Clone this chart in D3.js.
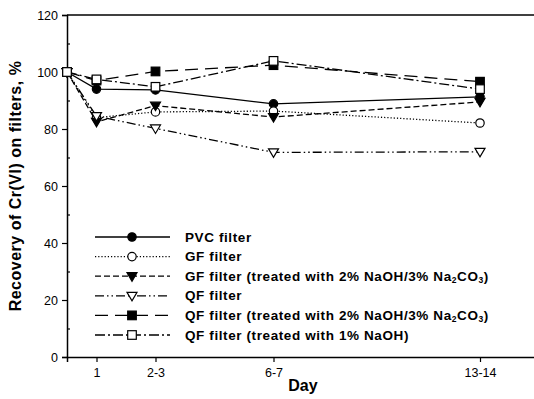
<!DOCTYPE html>
<style>
 body { margin: 0; background: #fff; }
 svg { font-family: "Liberation Sans", Arial, sans-serif; background: #fff; }
 .tick text { font-size: 12.5px; fill: #000; }
 .legend text { font-size: 13.5px; font-weight: bold; letter-spacing: 0.6px; }
</style>
<body>
<svg width="534" height="399"></svg>
</body>
<script src="https://d3js.org/d3.v7.min.js"></script>
<script>

// data
var days = [0, 1, 3, 7, 14];
var dayLabels = ["", "1", "2-3", "6-7", "13-14"];
var pvc = [100, 94, 93.7, 88.8, 91.3];
var gf = [100, 84, 86, 86.3, 82.1];
var gfTreated = [100, 82.5, 88.2, 84.2, 89.5];
var qf = [100, 84.5, 80.2, 71.8, 72];
var qfTreated2 = [100, 97, 100.2, 102.4, 96.6];
var qfTreated1 = [100, 97.4, 94.8, 103.9, 94];
var yTicks = [0, 20, 40, 60, 80, 100, 120];

var series = [
  {name: ["PVC filter"], values: pvc, dash: null, marker: "circle", fill: "#000"},
  {name: ["GF filter"], values: gf, dash: "1.2,2", marker: "circle", fill: "#fff"},
  {name: ["GF filter (treated with 2% NaOH/3% Na", "2", "CO", "3", ")"], values: gfTreated, dash: "6,3", marker: "tri", fill: "#000"},
  {name: ["QF filter"], values: qf, dash: "9,3,1.5,3,1.5,3", marker: "tri", fill: "#fff"},
  {name: ["QF filter (treated with 2% NaOH/3% Na", "2", "CO", "3", ")"], values: qfTreated2, dash: "13,7", marker: "square", fill: "#000"},
  {name: ["QF filter (treated with 1% NaOH)"], values: qfTreated1, dash: "10,3,2,3", marker: "square", fill: "#fff"}
];

var svg = d3.select("svg");
var x = d3.scaleLinear().domain([0, 16]).range([67, 539]);
var y = d3.scaleLinear().domain([0, 120]).range([357, 15]);

// top frame line
svg.append("line")
  .attr("x1", x(0)).attr("x2", 534)
  .attr("y1", y(120)).attr("y2", y(120))
  .attr("stroke", "#000").attr("stroke-width", 1.5);

// y axis, major ticks outside
var yAxisG = svg.append("g")
  .attr("transform", "translate(" + x(0) + ",0)")
  .call(d3.axisLeft(y).tickValues(yTicks).tickSize(5).tickPadding(4));
// minor ticks inside
svg.append("g")
  .attr("transform", "translate(" + x(0) + ",0)")
  .call(d3.axisRight(y).tickValues([10, 30, 50, 70, 90, 110]).tickSize(3).tickFormat(""))
  .select(".domain").remove();

// x axis
var xAxisG = svg.append("g")
  .attr("transform", "translate(0," + y(0) + ")")
  .call(d3.axisBottom(x).tickValues(days.slice(1)).tickSize(5).tickPadding(6)
    .tickFormat(function(d){ return dayLabels[days.indexOf(d)]; }));

svg.selectAll(".domain").attr("stroke", "#000").attr("stroke-width", 1.5);
svg.selectAll(".tick line").attr("stroke", "#000").attr("stroke-width", 1.2);

// axis titles
svg.append("text")
  .attr("x", x(8)).attr("y", 391)
  .attr("text-anchor", "middle")
  .style("font-size", "16px").style("font-weight", "bold")
  .text("Day");
svg.append("text")
  .attr("transform", "translate(21," + y(60) + ") rotate(-90)")
  .attr("text-anchor", "middle")
  .style("font-size", "16px").style("font-weight", "bold")
  .style("letter-spacing", "0.5px")
  .text("Recovery of Cr(VI) on filters,  %");

var line = d3.line()
  .x(function(d, i){ return x(days[i]); })
  .y(function(d){ return y(d); });

function drawMarker(g, type, cx, cy, fill) {
  if (type == "circle") {
    g.append("circle").attr("cx", cx).attr("cy", cy).attr("r", 4.2)
      .attr("fill", fill).attr("stroke", "#000").attr("stroke-width", 1.2);
  } else if (type == "square") {
    g.append("rect").attr("x", cx - 4.3).attr("y", cy - 4.3)
      .attr("width", 8.6).attr("height", 8.6)
      .attr("fill", fill).attr("stroke", "#000").attr("stroke-width", 1.2);
  } else {
    g.append("path")
      .attr("d", "M" + (cx - 5) + "," + (cy - 3.5) + "L" + (cx + 5) + "," + (cy - 3.5) + "L" + cx + "," + (cy + 5) + "Z")
      .attr("fill", fill).attr("stroke", "#000").attr("stroke-width", 1.2);
  }
}

var plot = svg.append("g");
series.forEach(function(s){
  plot.append("path")
    .datum(s.values)
    .attr("d", line)
    .attr("fill", "none")
    .attr("stroke", "#000")
    .attr("stroke-width", 1.3)
    .attr("stroke-dasharray", s.dash);
});
series.forEach(function(s){
  s.values.forEach(function(v, i){
    drawMarker(plot, s.marker, x(days[i]), y(v), s.fill);
  });
});

// legend
var legend = svg.append("g").attr("class", "legend");
series.forEach(function(s, i){
  var ly = 237 + i * 19.6;
  legend.append("line")
    .attr("x1", 95).attr("x2", 170).attr("y1", ly).attr("y2", ly)
    .attr("stroke", "#000").attr("stroke-width", 1.3)
    .attr("stroke-dasharray", s.dash);
  drawMarker(legend, s.marker, 132, ly, s.fill);
  var t = legend.append("text").attr("x", 185).attr("y", ly + 4.5);
  s.name.forEach(function(part, j){
    var sp = t.append("tspan").text(part);
    if (j % 2 == 1) sp.attr("baseline-shift", "-25%").style("font-size", "8.5px");
  });
});

</script>
</html>
